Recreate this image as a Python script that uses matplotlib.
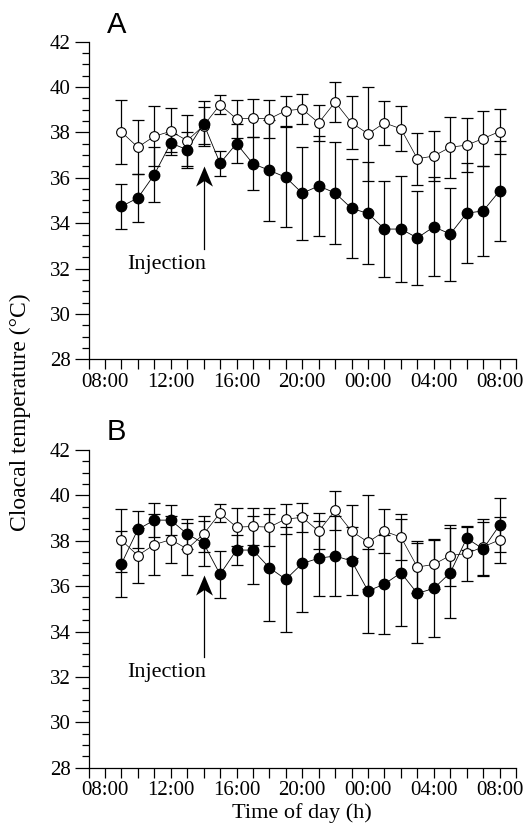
import numpy as np
import matplotlib
matplotlib.use('Agg')
import matplotlib.pyplot as plt
from matplotlib.path import Path
from matplotlib.ticker import MultipleLocator, FixedLocator

# time of day in hours (09:00 day 1 ... 08:00 day 2)
time_h = [9, 10, 11, 12, 13, 14, 15, 16, 17, 18, 19, 20,
          21, 22, 23, 24, 25, 26, 27, 28, 29, 30, 31, 32]

# control group (open circles), same in both panels
ctrl_mean = [38.02, 37.35, 37.83, 38.05, 37.64, 38.30, 39.22, 38.60, 38.63, 38.60, 38.96, 39.03,
             38.42, 39.34, 38.42, 37.94, 38.42, 38.16, 36.84, 36.96, 37.35, 37.44, 37.73, 38.04]
ctrl_err = [1.40, 1.20, 1.33, 1.04, 1.13, 0.80, 0.41, 0.85, 0.83, 0.85, 0.66, 0.65,
            0.80, 0.87, 1.17, 2.07, 0.98, 1.00, 1.14, 1.10, 1.35, 1.20, 1.23, 1.00]

# panel A treated (filled circles)
a_mean = [34.74, 35.11, 36.14, 37.53, 37.24, 38.39, 36.64, 37.51, 36.62, 36.33, 36.02, 35.32,
          35.64, 35.33, 34.65, 34.43, 33.74, 33.74, 33.35, 33.84, 33.52, 34.44, 34.54, 35.42]
a_err = [1.00, 1.05, 1.20, 0.40, 0.80, 1.00, 0.55, 0.85, 1.17, 2.24, 2.20, 2.05,
         2.20, 2.25, 2.18, 2.25, 2.10, 2.33, 2.08, 2.18, 2.05, 2.20, 2.00, 2.20]

# panel B treated (filled circles)
b_mean = [36.98, 38.50, 38.91, 38.91, 38.30, 37.89, 36.52, 37.59, 37.59, 36.81, 36.30, 37.00,
          37.23, 37.33, 37.11, 35.79, 36.09, 36.59, 35.68, 35.90, 36.59, 38.11, 37.64, 38.69]
b_err = [1.47, 0.80, 0.75, 0.65, 0.67, 1.00, 1.03, 0.65, 1.50, 2.35, 2.32, 2.12,
         1.65, 1.76, 1.50, 1.84, 2.18, 2.36, 2.20, 2.15, 1.98, 0.50, 1.20, 1.20]

tick_pos = [8, 12, 16, 20, 24, 28, 32]
tick_labels = ['08:00', '12:00', '16:00', '20:00', '00:00', '04:00', '08:00']

plt.rcParams['font.family'] = ['Liberation Serif', 'DejaVu Serif']

# stealth style arrow head, tip at the origin
head = Path([(0, 0), (-0.42, -1.0), (0, -0.72), (0.42, -1.0), (0, 0)],
            [Path.MOVETO, Path.LINETO, Path.LINETO, Path.LINETO, Path.CLOSEPOLY])


def draw_panel(ax, mean, err, show_xlabel):
    ekw = dict(fmt='none', ecolor='black', elinewidth=0.9, capsize=4.5, capthick=0.9)
    ax.errorbar(time_h, mean, yerr=err, zorder=2, **ekw)
    ax.errorbar(time_h, ctrl_mean, yerr=ctrl_err, zorder=2, **ekw)

    # connecting lines
    ax.plot(time_h, ctrl_mean, color='black', lw=0.5, zorder=3)
    ax.plot(time_h, mean, color='black', lw=0.6, zorder=3)

    ax.plot(time_h, ctrl_mean, 'o', ms=7, mfc='white', mec='black', mew=0.8, zorder=4)
    ax.plot(time_h, mean, 'o', ms=7.5, mfc='black', mec='black', zorder=5)

    # injection arrow
    ax.plot([14, 14], [32.86, 36.0], color='black', lw=0.9, zorder=3)
    ax.plot([14], [36.5], marker=head, ms=29, color='black', mew=0, zorder=3)
    ax.text(14.15, 32.0, 'Injection', ha='right', va='baseline', fontsize=16)

    ax.set_xlim(7, 33)
    ax.set_ylim(28, 42)
    ax.spines['top'].set_visible(False)
    ax.spines['right'].set_visible(False)
    ax.spines['left'].set_linewidth(0.9)
    ax.spines['bottom'].set_linewidth(0.9)

    ax.xaxis.set_major_locator(FixedLocator(tick_pos))
    ax.set_xticklabels(tick_labels)
    ax.xaxis.set_minor_locator(MultipleLocator(1))
    ax.yaxis.set_major_locator(MultipleLocator(2))
    ax.yaxis.set_minor_locator(MultipleLocator(0.5))
    ax.tick_params(axis='x', which='both', direction='out', length=7, width=0.9, labelsize=15, pad=3)
    ax.tick_params(axis='y', which='major', direction='out', length=10, width=0.9, labelsize=15, pad=3)
    ax.tick_params(axis='y', which='minor', direction='out', length=5, width=0.9)

    if show_xlabel:
        ax.set_xlabel('Time of day (h)', fontsize=16, labelpad=2)


fig = plt.figure(figsize=(5.31, 8.39), dpi=100)
ax1 = fig.add_axes([0.1667, 0.5718, 0.8051, 0.3785])
ax2 = fig.add_axes([0.1667, 0.0851, 0.8051, 0.3785])

draw_panel(ax1, a_mean, a_err, False)
draw_panel(ax2, b_mean, b_err, True)

fig.text(107 / 531, 1 - 33 / 839, 'A', fontsize=21, family=['Liberation Sans', 'DejaVu Sans'],
         ha='left', va='baseline')
fig.text(107 / 531, 1 - 440 / 839, 'B', fontsize=21, family=['Liberation Sans', 'DejaVu Sans'],
         ha='left', va='baseline')

fig.text(20 / 531, 1 - 412 / 839, 'Cloacal temperature (°C)', rotation=90,
         ha='center', va='center', fontsize=17)

fig.savefig('out.png', dpi=100)
